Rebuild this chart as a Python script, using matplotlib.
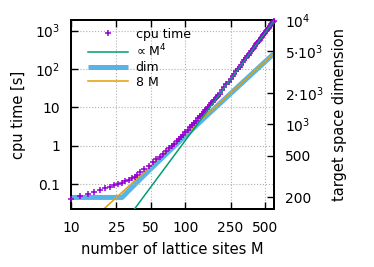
import matplotlib
matplotlib.use('Agg')
import matplotlib.pyplot as plt
from matplotlib.ticker import FixedLocator, FixedFormatter, NullLocator

# cpu time vs number of lattice sites
cpu_M = [10, 12, 14, 16, 18, 20, 22, 24, 26, 28, 30, 32, 34, 36, 38, 40,
         44, 48, 52, 56, 60, 64, 68, 72, 76, 80, 84, 88, 92, 96, 100,
         105, 110, 115, 120, 125, 130, 135, 140, 145, 150,
         155, 160, 165, 170, 175, 180, 185, 190, 195, 200,
         210, 220, 230, 240, 250, 260, 270, 280, 290, 300,
         310, 320, 330, 340, 350, 360, 370, 380, 390, 400,
         410, 420, 430, 440, 450, 460, 470, 480, 490, 500,
         510, 520, 530, 540, 550, 560, 570, 580, 590, 600]
cpu_time = [0.042, 0.050, 0.057, 0.065, 0.073, 0.080, 0.088, 0.095, 0.102, 0.110,
            0.120, 0.131, 0.144, 0.158, 0.176, 0.205,
            0.255, 0.31, 0.375, 0.45, 0.53, 0.63, 0.74, 0.86, 1.00, 1.15,
            1.32, 1.51, 1.73, 1.97, 2.24,
            2.61, 3.02, 3.48, 3.99, 4.55, 5.18, 5.87, 6.62, 7.45, 8.36,
            9.34, 10.4, 11.6, 12.8, 14.2, 15.7, 17.3, 19.0, 20.9, 22.8,
            27.7, 33.4, 39.8, 47.2, 55.5, 64.9, 75.4, 87.1, 100.2, 114.6,
            130.6, 148.3, 167.5, 188.7, 211.8, 236.9, 264.2, 293.8, 325.7, 360.2,
            397.5, 437.5, 480.4, 526.3, 575.6, 628.4, 684.4, 744.1, 808.0, 875.5,
            947.5, 1024, 1104, 1190, 1279, 1375, 1475, 1581, 1692, 1809]

# reference power law ~ M^4 (end points of the straight line)
m4_M = [10, 600]
m4_time = [1.373e-4, 1780]

# target space dimension
dim_M = [10, 28, 32, 40, 50, 64, 80, 100, 150, 200, 300, 400, 500, 600]
dim = [200, 200, 232, 296, 376, 488, 616, 776, 1176, 1576, 2376, 3176, 3976, 4776]

# 8 M line
lin_M = [10, 600]
lin_dim = [80, 4800]

x_ticks = [10, 25, 50, 100, 250, 500]
x_labels = ['10', '25', '50', '100', '250', '500']
yl_ticks = [0.1, 1, 10, 100, 1000]
yl_labels = ['0.1', '1', '10', '10$^2$', '10$^3$']
yr_ticks = [200, 500, 1000, 2000, 5000, 10000]
yr_labels = ['200', '500', '10$^3$', '2·10$^3$', '5·10$^3$', '10$^4$']

fig = plt.figure(figsize=(3.74, 2.67), dpi=100)
ax = fig.add_axes([71 / 374, 1 - 209 / 267, 203 / 374, 189 / 267])
ax2 = ax.twinx()
# cpu time drawn above the dimension curves
ax.set_zorder(ax2.get_zorder() + 1)
ax.patch.set_visible(False)

h1, = ax.plot(cpu_M, cpu_time, '+', color='#9400d3', markersize=4.6, mew=1.1,
              clip_on=False, label='cpu time', zorder=3)
h2, = ax.plot(m4_M, m4_time, color='#009e73', lw=1.1, label='∝ M$^4$', zorder=4)
h3, = ax2.plot(dim_M, dim, color='#56b4e9', lw=3.6, solid_capstyle='butt', label='dim')
h4, = ax2.plot(lin_M, lin_dim, color='#e69f00', lw=1.1, label='8 M')

for a in (ax, ax2):
    a.set_xscale('log')
    a.set_yscale('log')
    a.set_xlim(10, 600)
    for s in a.spines.values():
        s.set_linewidth(1.4)

ax.set_ylim(0.023, 1875)
ax2.set_ylim(155, 10000)

ax.xaxis.set_major_locator(FixedLocator(x_ticks))
ax.xaxis.set_major_formatter(FixedFormatter(x_labels))
ax.xaxis.set_minor_locator(NullLocator())
ax.yaxis.set_major_locator(FixedLocator(yl_ticks))
ax.yaxis.set_major_formatter(FixedFormatter(yl_labels))
ax.yaxis.set_minor_locator(NullLocator())
ax2.yaxis.set_major_locator(FixedLocator(yr_ticks))
ax2.yaxis.set_major_formatter(FixedFormatter(yr_labels))
ax2.yaxis.set_minor_locator(NullLocator())

ax.tick_params(axis='x', which='both', direction='in', top=True, length=5, width=1,
               labelsize=10, pad=9)
ax.tick_params(axis='y', which='both', direction='in', length=5, width=1,
               labelsize=10, pad=8)
ax2.tick_params(axis='y', which='both', direction='in', length=5, width=1,
                labelsize=10, pad=8)

ax.grid(True, which='major', linestyle=':', color='#b0b0b0', linewidth=0.8, zorder=0)

ax.set_xlabel('number of lattice sites M', fontsize=10.5, labelpad=5)
ax.set_ylabel('cpu time [s]', fontsize=10.5, labelpad=6)
ax2.set_ylabel('target space dimension', fontsize=10.5, labelpad=6)

ax.legend(handles=[h1, h2, h3, h4], loc='upper left', bbox_to_anchor=(0.084, 0.96),
          frameon=False, fontsize=9, handlelength=3.2, handletextpad=0.6,
          labelspacing=0.15, borderpad=0, borderaxespad=0, numpoints=1)

fig.savefig('out.png', dpi=100)
